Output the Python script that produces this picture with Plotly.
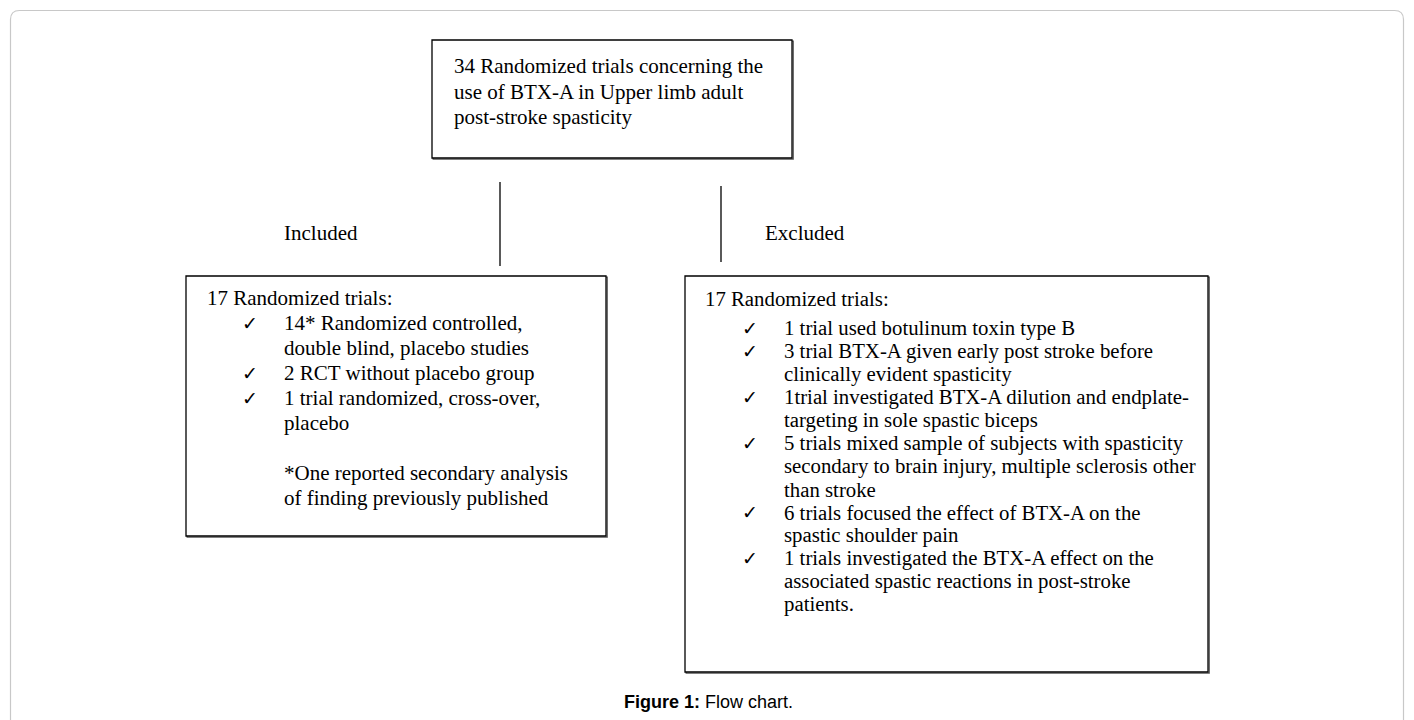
import plotly.graph_objects as go

W, H = 1414, 720

top_lines = ["34 Randomized trials concerning the",
             "use of BTX-A in Upper limb adult",
             "post-stroke spasticity"]

left_header = "17 Randomized trials:"
left_items = [["14* Randomized controlled,", "double blind, placebo studies"],
              ["2 RCT without placebo group"],
              ["1 trial randomized, cross-over,", "placebo"]]
left_note = ["*One reported secondary analysis", "of finding previously published"]

right_header = "17 Randomized trials:"
right_items = [["1 trial used botulinum toxin type B"],
               ["3 trial BTX-A given early post stroke before", "clinically evident spasticity"],
               ["1trial investigated BTX-A dilution and endplate-", "targeting in sole spastic biceps"],
               ["5 trials mixed sample of subjects with spasticity",
                "secondary to brain injury, multiple sclerosis other", "than stroke"],
               ["6 trials focused the effect of BTX-A on the", "spastic shoulder pain"],
               ["1 trials investigated the BTX-A effect on the",
                "associated spastic reactions in post-stroke", "patients."]]

branch_labels = ["Included", "Excluded"]
caption_bold = "Figure 1:"
caption_rest = " Flow chart."

SERIF = "Liberation Serif, Times New Roman, serif"
FS = 21

fig = go.Figure()
fig.add_trace(go.Scatter(x=[0, W], y=[0, H], mode="markers",
                         marker=dict(opacity=0), hoverinfo="skip", showlegend=False))

shapes = []
annots = []

def txt(x, y, s, size=FS, family=SERIF, anchor="left"):
    annots.append(dict(x=x, y=y, text=s, showarrow=False, xanchor=anchor, yanchor="middle",
                       font=dict(family=family, size=size, color="black"),
                       xref="x", yref="y"))

def box(x0, y0, x1, y1):
    shapes.append(dict(type="rect", x0=x0 + 1.2, y0=y0 + 1.2, x1=x1 + 1.2, y1=y1 + 1.2,
                       line=dict(color="#555", width=1.3), fillcolor="rgba(0,0,0,0)"))
    shapes.append(dict(type="rect", x0=x0, y0=y0, x1=x1, y1=y1,
                       line=dict(color="black", width=1.3), fillcolor="white"))

# outer rounded frame
r = 9
x0, y0, x1, y1 = 10.5, 10.5, 1403.5, 740
shapes.append(dict(type="path",
                   path=f"M {x0} {y1} L {x0} {y0+r} Q {x0} {y0} {x0+r} {y0} L {x1-r} {y0} Q {x1} {y0} {x1} {y0+r} L {x1} {y1}",
                   line=dict(color="#c8c8c8", width=1.2)))

# boxes
box(432, 40, 792, 158)
box(186, 276, 606, 536)
box(685, 276, 1208, 672)

# connector lines
shapes.append(dict(type="line", x0=500, y0=182, x1=500, y1=266, line=dict(color="black", width=1.3)))
shapes.append(dict(type="line", x0=721, y0=186, x1=721, y1=262, line=dict(color="black", width=1.3)))

# top box text
for i, s in enumerate(top_lines):
    txt(452, 66 + i * 25.5, s)

# branch labels
txt(282, 233, branch_labels[0])
txt(763, 233, branch_labels[1])


def list_box(xh, xc, xt, y_start, header, items, first_gap, lh, size, note=None):
    y = y_start
    txt(xh, y, header, size=size)
    y += first_gap
    for item in items:
        txt(xc, y, "✓", size=19, family="DejaVu Sans", anchor="center")
        for line in item:
            txt(xt, y, line, size=size)
            y += lh
    if note:
        y += lh
        for line in note:
            txt(xt, y, line, size=size)
            y += lh

list_box(205, 250, 282, 298, left_header, left_items, 25, 25, 21, left_note)
list_box(703, 750, 782, 298, right_header, right_items, 30, 23, 20.8)

# caption
txt(708, 702, f"<b>{caption_bold}</b>{caption_rest}", size=18,
    family="Liberation Sans, Arial, sans-serif", anchor="center")

fig.update_layout(
    width=W, height=H, margin=dict(l=0, r=0, t=0, b=0),
    paper_bgcolor="white", plot_bgcolor="white",
    xaxis=dict(range=[0, W], visible=False, fixedrange=True),
    yaxis=dict(range=[H, 0], visible=False, fixedrange=True),
    shapes=shapes, annotations=annots, showlegend=False,
)
fig.write_html("out.html", config={"displayModeBar": False},
               post_script="document.body.style.margin='0';document.body.style.overflow='hidden';")
